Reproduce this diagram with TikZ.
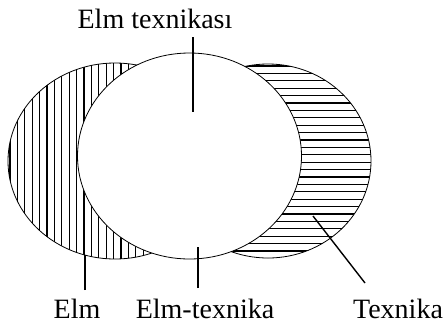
\documentclass[tikz,border=0pt]{standalone}
\usepackage{fontspec}
\setmainfont{Liberation Serif}
\usetikzlibrary{positioning}
\tikzset{lbl/.style = {font=\fontsize{28}{30}\selectfont, inner sep = 0, anchor = base},
         hatch/.style = {line width = 1.1},
         edge/.style = {line width = 0.8},
         pin/.style = {line width = 1.4}}

\begin{document}
\begin{tikzpicture}[x=1pt,y=-1pt]
        \useasboundingbox (0,0) rectangle (447,325);
        % Elm: vertical hatching
        \begin{scope}
            \clip (115,161) ellipse [x radius=107, y radius=98];
            \foreach \x in {10,17.4,...,230} \draw [hatch] (\x,55) -- (\x,265);
        \end{scope}
        % Texnika: horizontal hatching
        \begin{scope}
            \clip (268,161) ellipse [x radius=103, y radius=97];
            \foreach \y in {66,73.4,...,262} \draw [hatch] (160,\y) -- (380,\y);
        \end{scope}
        \draw [edge] (115,161) ellipse [x radius=107, y radius=98];
        \draw [edge] (268,161) ellipse [x radius=103, y radius=97];
        \filldraw [edge, fill=white] (189.5,156) ellipse [x radius=112, y radius=103];
        % labels
        \node [lbl] (top) at (155,28) {Elm texnikası};
        \node [lbl] (elm) at (77,318) {Elm};
        \node [lbl] (mid) at (205,318) {Elm-texnika};
        \node [lbl] (tex) at (398,318) {Texnika};
        \coordinate (topA) at (193,37);
        \coordinate (topB) at (193,112);
        \coordinate (elmA) at (85,290);
        \coordinate (elmB) at (85,255);
        \coordinate (midA) at (198,288);
        \coordinate (midB) at (198,247);
        \coordinate (texA) at (365,283);
        \coordinate (texB) at (313,216);
        \draw [pin] (topA) -- (topB);
        \draw [pin] (elmA) -- (elmB);
        \draw [pin] (midA) -- (midB);
        \draw [pin] (texA) -- (texB);
\end{tikzpicture}
\end{document}
